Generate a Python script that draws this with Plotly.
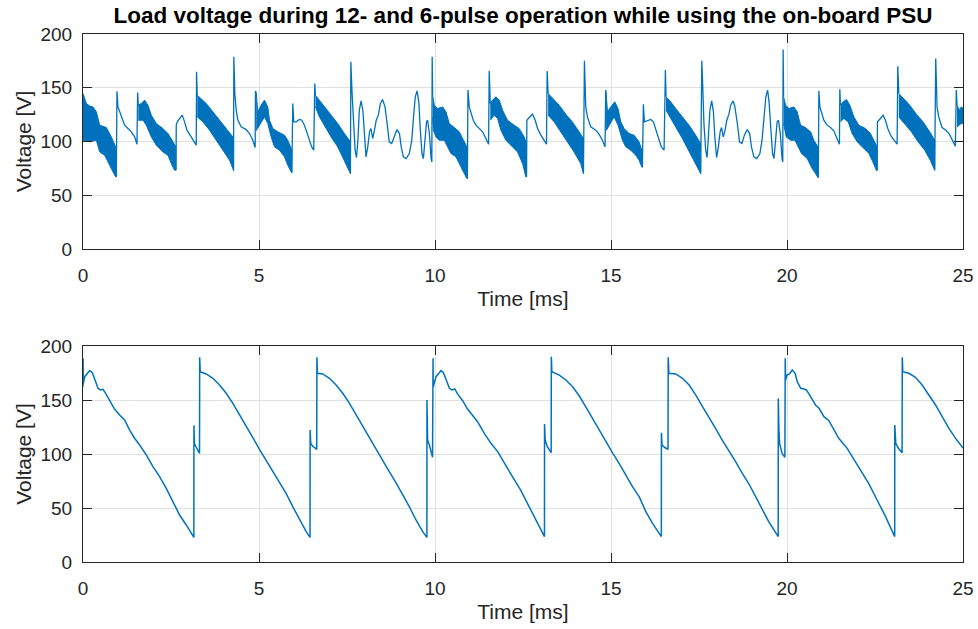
import plotly.graph_objects as go

BLUE = "#0072BD"
AXC = "#262626"
GRID = "#e0e0e0"
FONT = "Liberation Sans, Arial, Helvetica, sans-serif"

title_text = "Load voltage during 12- and 6-pulse operation while using the on-board PSU"
x_ticks = [0, 5, 10, 15, 20, 25]
y_ticks = [0, 50, 100, 150, 200]

# ---------------- top panel: single (thin) line parts, None separates segments
top_line_t = [
    0.947, 0.965, 0.993, 1.04, 1.117, 1.183, 1.278, 1.372, 1.467, 1.533, 1.552, 1.571, None,
    2.64, 2.65, 2.678, 2.744, 2.82, 2.886, 2.953, 3.075, 3.17, 3.217, 3.226, 3.245, None,
    4.276, 4.285, 4.314, 4.352, 4.4, 4.494, 4.636, 4.73, 4.825, 4.891, 4.9, 4.92, None,
    5.932, 5.96, 5.988, 6.054, 6.148, 6.215, 6.29, 6.366, 6.432, 6.498, 6.555, 6.584, 6.603, None,
    7.597, 7.61, 7.64, 7.68, 7.73, 7.77, 7.81, 7.85, 7.90, 7.95, 8.0, 8.04, 8.09, 8.14, 8.18, 8.23,
    8.28, 8.33, 8.39, 8.45, 8.51, 8.58, 8.64, 8.70, 8.77, 8.85, 8.92, 8.99, 9.04, 9.10, 9.18, 9.27,
    9.34, 9.39, 9.44, 9.49, 9.54, 9.58, 9.63, 9.67, 9.72, 9.76, 9.79, 9.84, 9.89, 9.91, 9.92, 9.933, None,
    10.92, 10.936, 10.974, 11.02, 11.087, 11.163, 11.257, 11.352, 11.446, 11.522, 11.54, 11.57, None,
    12.6, 12.61, 12.677, 12.77, 12.847, 12.913, 13.008, 13.1, 13.167, 13.186, 13.214, None,
    14.217, 14.245, 14.283, 14.33, 14.425, 14.567, 14.66, 14.756, 14.83, 14.85, 14.86, None,
    15.892, 15.92, 15.949, 16.034, 16.129, 16.204, 16.28, 16.355, 16.43, 16.508, 16.545, 16.563, None,
    17.547, 17.58, 17.61, 17.64, 17.69, 17.73, 17.76, 17.81, 17.86, 17.91, 17.95, 18.0, 18.05, 18.1,
    18.14, 18.19, 18.24, 18.29, 18.35, 18.40, 18.47, 18.52, 18.59, 18.65, 18.72, 18.79, 18.87, 18.94,
    18.99, 19.06, 19.14, 19.23, 19.29, 19.35, 19.40, 19.45, 19.49, 19.54, 19.59, 19.63, 19.68, 19.72,
    19.76, 19.81, 19.86, 19.88, 19.89, 19.903, None,
    20.89, 20.905, 20.934, 20.98, 21.047, 21.142, 21.236, 21.33, 21.425, 21.49, 21.5, 21.52, None,
    22.56, 22.57, 22.655, 22.73, 22.797, 22.863, 22.958, 23.053, 23.128, 23.147, 23.176, None,
    24.196, 24.225, 24.263, 24.31, 24.405, 24.518, 24.613, 24.707, 24.783, 24.81, 24.83,
]
top_line_v = [
    67.1, 146.8, 132.2, 127.6, 119.8, 115.2, 112.1, 109.0, 104.3, 97.5, 145.6, 133.8, None,
    73.3, 115.2, 118.3, 121.4, 124.5, 118.3, 110.5, 104.3, 99.7, 96.6, 164.8, 143.1, None,
    73.0, 178.8, 144.7, 129.1, 119.8, 113.6, 111.1, 107.4, 101.2, 94.4, 146.8, 146.0, None,
    71.0, 135.4, 118.3, 118.3, 120.5, 119.8, 115.2, 107.4, 99.7, 95.0, 91.9, 154.0, 143.1, None,
    70.2, 174.1, 147.8, 116.7, 91.9, 85.1, 101.2, 129.1, 137.8, 129.1, 104.3, 85.7, 95.0, 109.0, 112.1, 102.8,
    110.5, 119.8, 124.5, 135.4, 139.1, 132.2, 116.7, 99.7, 98.1, 105.9, 111.1, 107.4, 95.0, 85.7, 84.1, 88.8,
    101.2, 122.9, 141.6, 147.1, 136.9, 112.1, 88.8, 84.1, 101.2, 118.3, 119.8, 107.4, 84.1, 81.0, 178.8, 143.1, None,
    65.5, 147.8, 132.2, 127.6, 119.8, 115.2, 112.1, 109.0, 102.8, 97.5, 165.8, 135.4, None,
    67.0, 119.8, 122.3, 125.4, 119.8, 112.1, 105.9, 101.2, 97.5, 165.5, 144.7, None,
    70.2, 175.1, 132.2, 122.9, 113.6, 110.5, 106.8, 101.2, 95.0, 147.8, 146.2, None,
    76.0, 134.7, 118.3, 119.2, 120.5, 118.3, 110.5, 101.2, 95.0, 91.9, 166.4, 141.6, None,
    70.2, 175.1, 147.8, 116.7, 91.9, 85.1, 101.2, 129.1, 137.8, 127.6, 104.3, 85.1, 95.0, 109.0,
    113.0, 104.3, 110.5, 119.8, 125.4, 133.8, 137.8, 132.2, 116.7, 99.7, 98.1, 105.9, 111.1, 107.4,
    95.0, 85.7, 84.1, 88.8, 101.2, 122.9, 141.6, 147.8, 136.9, 112.1, 88.8, 84.1, 101.2, 118.3,
    119.8, 107.4, 84.1, 81.0, 185.6, 141.6, None,
    66.5, 147.1, 132.2, 127.6, 119.8, 115.2, 113.0, 109.9, 102.8, 97.5, 148.7, 133.8, None,
    73.0, 118.3, 121.4, 124.5, 119.8, 112.1, 104.9, 101.2, 97.5, 170.1, 144.7, None,
    73.3, 177.2, 132.2, 122.9, 113.0, 110.5, 106.8, 101.2, 95.6, 147.8, 133.8,
]

# ---------------- top panel: dense ripple bands (upper / lower envelopes), None separates bands
band_top_t = [
    0.0, 0.096, 0.19, 0.285, 0.379, 0.474, 0.663, 0.805, 0.928, 0.947, None,
    1.571, 1.657, 1.75, 1.845, 1.94, 2.082, 2.27, 2.413, 2.555, 2.64, None,
    3.245, 3.359, 3.5, 3.69, 3.879, 4.068, 4.257, 4.276, None,
    4.92, 4.967, 5.06, 5.156, 5.25, 5.298, 5.393, 5.535, 5.724, 5.818, 5.932, None,
    6.603, 6.717, 6.859, 7.048, 7.237, 7.427, 7.597, None,
    9.933, 9.98, 10.075, 10.217, 10.312, 10.406, 10.548, 10.69, 10.785, 10.907, 10.92, None,
    11.57, 11.636, 11.73, 11.825, 11.92, 12.06, 12.25, 12.39, 12.535, 12.6, None,
    13.214, 13.337, 13.526, 13.715, 13.9, 14.094, 14.217, None,
    14.86, 14.9, 14.993, 15.107, 15.2, 15.277, 15.372, 15.514, 15.655, 15.797, 15.892, None,
    16.563, 16.696, 16.838, 17.027, 17.216, 17.405, 17.547, None,
    19.903, 19.96, 20.055, 20.197, 20.29, 20.385, 20.527, 20.67, 20.764, 20.877, 20.89, None,
    21.52, 21.596, 21.69, 21.785, 21.9, 22.04, 22.23, 22.37, 22.513, 22.56, None,
    23.176, 23.3, 23.487, 23.676, 23.865, 24.054, 24.196, None,
    24.83, 24.9, 24.95, 25.0,
]
band_top_v = [
    144.7, 135.4, 133.0, 132.2, 127.6, 115.2, 113.0, 104.3, 95.0, 90.0, None,
    133.8, 135.4, 138.5, 133.8, 124.5, 116.7, 112.1, 107.4, 99.7, 95.0, None,
    143.1, 140.0, 135.4, 127.6, 119.8, 112.1, 104.3, 102.0, None,
    146.0, 127.6, 133.8, 138.5, 132.2, 119.8, 112.1, 109.0, 105.9, 101.2, 91.9, None,
    143.1, 138.5, 132.2, 124.5, 116.7, 107.4, 99.7, None,
    143.1, 133.8, 130.7, 132.2, 127.6, 116.7, 113.0, 109.0, 102.8, 95.0, 92.0, None,
    135.4, 138.5, 141.6, 138.5, 129.1, 119.8, 115.2, 112.1, 104.3, 98.1, None,
    144.7, 140.0, 133.8, 125.4, 118.3, 109.0, 102.8, None,
    146.2, 127.6, 132.2, 136.9, 130.7, 118.3, 112.1, 107.4, 105.9, 99.7, 90.3, None,
    141.6, 136.9, 130.7, 122.9, 115.2, 105.9, 98.1, None,
    141.6, 133.8, 130.7, 132.2, 127.6, 115.2, 113.0, 109.0, 101.2, 95.0, 92.0, None,
    133.8, 136.9, 139.1, 133.8, 122.9, 115.2, 112.1, 107.4, 98.1, 95.0, None,
    144.7, 140.0, 133.8, 125.4, 118.3, 109.0, 101.2, None,
    133.8, 129.1, 132.2, 131.0,
]
band_bot_t = [
    0.0, 0.19, 0.379, 0.474, 0.616, 0.758, 0.852, 0.928, 0.947, None,
    1.571, 1.704, 1.798, 1.94, 2.082, 2.27, 2.413, 2.508, 2.6, 2.64, None,
    3.245, 3.406, 3.595, 3.784, 3.973, 4.163, 4.257, 4.276, None,
    4.92, 5.014, 5.156, 5.25, 5.345, 5.44, 5.582, 5.724, 5.818, 5.913, 5.932, None,
    6.603, 6.717, 6.859, 7.048, 7.237, 7.427, 7.597, None,
    9.933, 9.952, 10.027, 10.122, 10.264, 10.359, 10.453, 10.595, 10.737, 10.832, 10.907, 10.92, None,
    11.57, 11.683, 11.778, 11.872, 12.014, 12.2, 12.345, 12.487, 12.58, 12.6, None,
    13.214, 13.384, 13.573, 13.762, 13.95, 14.14, 14.217, None,
    14.86, 14.946, 15.088, 15.2, 15.325, 15.42, 15.561, 15.703, 15.797, 15.873, 15.892, None,
    16.563, 16.696, 16.838, 17.027, 17.216, 17.405, 17.547, None,
    19.903, 19.978, 20.1, 20.225, 20.32, 20.413, 20.574, 20.716, 20.81, 20.877, 20.89, None,
    21.52, 21.615, 21.738, 21.85, 21.995, 22.184, 22.326, 22.44, 22.535, 22.56, None,
    23.176, 23.346, 23.535, 23.724, 23.913, 24.07, 24.196, None,
    24.83, 24.95, 25.0,
]
band_bot_v = [
    101.2, 99.7, 101.2, 90.3, 87.2, 77.9, 71.7, 67.1, 67.1, None,
    119.8, 119.8, 115.2, 104.3, 96.6, 90.3, 87.2, 79.5, 73.3, 73.3, None,
    122.9, 118.3, 110.5, 101.2, 91.9, 82.6, 74.8, 73.0, None,
    110.0, 115.2, 122.9, 116.7, 104.3, 95.0, 91.9, 85.7, 77.9, 71.7, 71.0, None,
    132.2, 122.9, 115.2, 104.3, 95.0, 82.6, 70.2, None,
    122.9, 110.5, 104.3, 101.2, 101.2, 95.0, 88.8, 85.7, 76.4, 70.2, 65.5, 65.5, None,
    119.8, 124.5, 121.4, 110.5, 101.2, 95.0, 90.3, 79.5, 67.1, 67.0, None,
    124.5, 118.3, 109.0, 99.7, 90.3, 79.5, 70.2, None,
    110.0, 115.2, 122.9, 115.2, 101.2, 95.0, 91.9, 87.2, 82.6, 76.4, 76.0, None,
    129.1, 121.4, 113.6, 102.8, 91.9, 79.5, 70.2, None,
    116.7, 104.3, 101.2, 101.2, 95.0, 88.8, 84.1, 74.8, 70.2, 66.5, 66.5, None,
    118.3, 121.4, 118.3, 107.4, 99.7, 93.5, 88.8, 81.0, 73.3, 73.0, None,
    122.9, 116.7, 109.0, 99.7, 91.9, 82.6, 73.3, None,
    113.6, 116.7, 117.0,
]

# ---------------- bottom panel (6-pulse)
bot_t = [
    0.0, 0.003, 0.008, 0.048, 0.114, 0.19, 0.266, 0.332, 0.427, 0.493, 0.568, 0.644, 0.758, 0.899,
    1.041, 1.183, 1.325, 1.467, 1.609, 1.798, 1.987, 2.176, 2.365, 2.555, 2.744, 2.933, 3.15,
    3.152, 3.165, 3.2, 3.25, 3.31, 3.315, 3.33,
    3.5, 3.69, 3.879, 4.068, 4.257, 4.446, 4.636, 4.825, 5.014, 5.2, 5.392, 5.58, 5.77, 5.96, 6.15, 6.34, 6.45,
    6.452, 6.47, 6.52, 6.64, 6.645, 6.66,
    6.81, 7.0, 7.19, 7.38, 7.57, 7.76, 7.95, 8.14, 8.33, 8.51, 8.70, 8.89, 9.08, 9.27, 9.46, 9.65, 9.77,
    9.772, 9.79, 9.84, 9.93, 9.945, 9.95,
    10.03, 10.1, 10.17, 10.24, 10.31, 10.41, 10.48, 10.56, 10.64, 10.79, 10.93, 11.07, 11.21, 11.4,
    11.59, 11.78, 11.97, 12.2, 12.43, 12.67, 12.87, 13.11,
    13.112, 13.13, 13.19, 13.3, 13.305, 13.32,
    13.53, 13.72, 13.91, 14.1, 14.28, 14.47, 14.66, 14.85, 15.04, 15.23, 15.42, 15.61, 15.8, 15.99, 16.18, 16.43,
    16.432, 16.45, 16.53, 16.62, 16.625, 16.645,
    16.84, 17.03, 17.22, 17.41, 17.6, 17.79, 17.97, 18.16, 18.35, 18.54, 18.73, 18.92, 19.11, 19.3, 19.48, 19.75,
    19.752, 19.77, 19.79, 19.86, 19.94, 19.95, 19.96,
    20.0, 20.07, 20.15, 20.23, 20.29, 20.39, 20.48, 20.55, 20.67, 20.81, 20.91, 21.05, 21.19, 21.33,
    21.47, 21.71, 21.85, 22.09, 22.32, 22.56, 22.8, 23.06,
    23.062, 23.09, 23.17, 23.27, 23.275, 23.29,
    23.46, 23.65, 23.84, 24.03, 24.22, 24.41, 24.6, 24.79, 24.96, 25.0,
]
bot_v = [
    162.3, 188.6, 165.0, 171.6, 174.7, 177.2, 175.3, 168.5, 160.8, 159.3, 159.9, 156.2, 150.0, 141.4,
    136.1, 131.5, 122.2, 114.6, 108.4, 99.1, 88.3, 79.0, 68.2, 55.9, 43.5, 34.3, 22.8,
    126.5, 109.9, 107.4, 104.0, 100.6, 189.5, 176.2,
    174.1, 170.1, 163.9, 156.2, 146.9, 136.7, 125.9, 115.1, 104.3, 94.4, 84.6, 74.4, 63.6, 51.2, 38.9, 28.1, 22.8,
    122.2, 109.9, 107.4, 104.3, 189.5, 174.7,
    174.1, 170.1, 163.9, 156.2, 146.9, 136.1, 125.3, 114.5, 103.7, 93.8, 83.6, 73.5, 63.0, 51.2, 38.9, 28.1, 22.8,
    150.0, 112.9, 108.3, 96.9, 188.6, 162.3,
    171.6, 174.7, 177.2, 175.3, 168.5, 160.8, 159.3, 160.2, 155.6, 149.1, 141.4, 136.1, 129.9, 119.1,
    109.9, 102.2, 91.4, 79.0, 66.7, 51.2, 38.9, 23.5,
    127.7, 112.9, 106.8, 101.2, 190.1, 176.2,
    173.1, 168.5, 162.3, 153.7, 143.8, 133.0, 122.2, 111.4, 101.2, 91.4, 80.6, 69.7, 60.5, 46.6, 35.8, 23.5,
    119.7, 108.3, 106.0, 104.3, 189.5, 174.7,
    174.1, 170.1, 163.9, 154.6, 143.8, 133.9, 123.8, 112.9, 103.1, 92.9, 82.1, 72.2, 60.5, 48.8, 37.3, 23.5,
    151.5, 122.2, 109.9, 100.6, 96.9, 188.6, 168.5,
    173.1, 174.1, 177.8, 174.7, 167.0, 160.8, 160.2, 159.3, 153.1, 145.4, 142.3, 134.6, 130.9, 122.2,
    114.5, 105.2, 97.5, 85.2, 72.8, 57.4, 42.0, 23.5,
    126.9, 109.9, 105.0, 101.2, 189.5, 176.2,
    174.7, 171.0, 163.9, 154.6, 145.4, 134.6, 123.8, 114.5, 106.8, 105.5,
]


def split_segments(seq):
    segs = [[]]
    for v in seq:
        if v is None:
            segs.append([])
        else:
            segs[-1].append(v)
    return [s for s in segs if s]


poly_t, poly_v = [], []
for tt, tv, bt, bv in zip(split_segments(band_top_t), split_segments(band_top_v),
                          split_segments(band_bot_t), split_segments(band_bot_v)):
    poly_t += tt + bt[::-1] + [None]
    poly_v += tv + bv[::-1] + [None]

fig = go.Figure()
fig.add_trace(go.Scatter(x=poly_t, y=poly_v, mode="lines", fill="toself",
                         fillcolor=BLUE, line=dict(color=BLUE, width=1),
                         xaxis="x", yaxis="y", hoverinfo="skip", showlegend=False))
fig.add_trace(go.Scatter(x=top_line_t, y=top_line_v, mode="lines",
                         line=dict(color=BLUE, width=1.3), connectgaps=False,
                         xaxis="x", yaxis="y", showlegend=False))
fig.add_trace(go.Scatter(x=bot_t, y=bot_v, mode="lines",
                         line=dict(color=BLUE, width=1.5),
                         xaxis="x2", yaxis="y2", showlegend=False))

xdom = [83 / 978, 963 / 978]
TICK_SIZE = 19
LABEL_SIZE = 21
ax_common = dict(showline=True, linecolor=AXC, linewidth=1, mirror="ticks",
                 ticks="inside", ticklen=9, tickcolor=AXC, tickwidth=1,
                 showgrid=True, gridcolor=GRID, gridwidth=1, zeroline=False,
                 tickfont=dict(family=FONT, size=TICK_SIZE, color=AXC),
                 automargin=False)

fig.update_layout(
    width=978, height=629,
    margin=dict(l=0, r=0, t=0, b=0),
    paper_bgcolor="white", plot_bgcolor="white",
    font=dict(family=FONT, color=AXC),
    title=dict(text="<b>" + title_text + "</b>", x=523 / 978, xanchor="center",
               y=1 - 15 / 629, yanchor="middle", xref="paper", yref="paper",
               font=dict(family=FONT, size=22.5, color="black")),
    xaxis=dict(domain=xdom, range=[0, 25], tickvals=x_ticks, anchor="y",
               title=dict(text="Time [ms]", font=dict(family=FONT, size=LABEL_SIZE, color=AXC), standoff=6),
               ticklabelstandoff=9, **ax_common),
    yaxis=dict(domain=[1 - 249 / 629, 1 - 34 / 629], range=[0, 200], tickvals=y_ticks, anchor="x",
               title=dict(text="Voltage [V]", font=dict(family=FONT, size=LABEL_SIZE, color=AXC), standoff=3),
               ticklabelstandoff=6, **ax_common),
    xaxis2=dict(domain=xdom, range=[0, 25], tickvals=x_ticks, anchor="y2",
                title=dict(text="Time [ms]", font=dict(family=FONT, size=LABEL_SIZE, color=AXC), standoff=6),
                ticklabelstandoff=9, **ax_common),
    yaxis2=dict(domain=[1 - 562 / 629, 1 - 346 / 629], range=[0, 200], tickvals=y_ticks, anchor="x2",
                title=dict(text="Voltage [V]", font=dict(family=FONT, size=LABEL_SIZE, color=AXC), standoff=3),
                ticklabelstandoff=6, **ax_common),
)

fig.write_html("out.html")
